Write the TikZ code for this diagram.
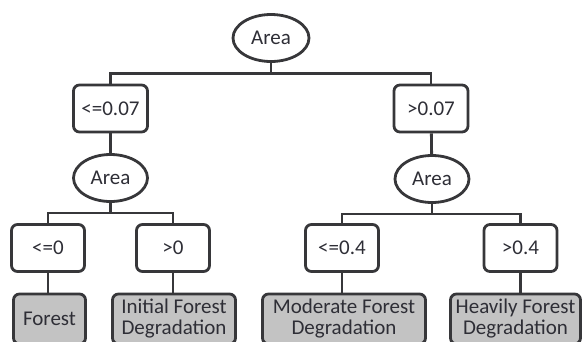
\documentclass[tikz,border=0pt]{standalone}
\usepackage{fontspec}
\setmainfont{Carlito}
\usetikzlibrary{shapes.geometric}
\definecolor{edge}{HTML}{37373A}
\definecolor{leafgray}{HTML}{C3C3C3}
\definecolor{ink}{HTML}{2E2E36}

\begin{document}
\begin{tikzpicture}[x=1pt,y=-1pt,
		attr/.style={ellipse,draw=edge,line width=2.8pt,fill=white,text=ink,minimum width=76pt,minimum height=47pt,inner sep=0pt},
		cond/.style={rectangle,rounded corners=6pt,draw=edge,line width=2.8pt,fill=white,text=ink,minimum width=73pt,minimum height=47pt,inner sep=0pt},
		leaf/.style={cond,fill=leafgray,minimum height=50pt,align=center},
		link/.style={draw=edge,line width=2.8pt}]
			\clip (0,0) rectangle (587,341);
			\fontsize{21}{21}\selectfont

			% top split
			\node[attr] (root) at (271,38) {Area};
			\node[cond,minimum width=74pt] (lo) at (110.5,108.5) {<=0.07};
			\node[cond,minimum width=74pt] (hi) at (431,108.5) {>0.07};

			% second splits
			\node[attr,minimum width=74pt] (loarea) at (110.5,178) {Area};
			\node[attr,minimum width=74pt] (hiarea) at (432,179) {Area};

			\node[cond] (lolo) at (48,248) {<=0};
			\node[cond] (lohi) at (173,248) {>0};
			\node[cond] (hilo) at (342,248) {<=0.4};
			\node[cond] (hihi) at (520.5,248) {>0.4};

			% classes
			\node[leaf,minimum width=72pt] (forest) at (49.5,319) {Forest};
			\node[leaf,minimum width=123pt] (initial) at (174,319) {Initial Forest\\Degradation};
			\node[leaf,minimum width=163pt] (moderate) at (344,319) {Moderate Forest\\Degradation};
			\node[leaf,minimum width=130pt] (heavy) at (515.5,319) {Heavily Forest\\Degradation};

			\draw[link] (root.south) -- ++(0,10.5) -| (lo.north);
			\draw[link] (root.south) -- ++(0,10.5) -| (hi.north);
			\draw[link] (lo) -- (loarea);
			\draw[link] (hi) -- (hiarea);
			\draw[link] (loarea.south) -- ++(0,10) -| (lolo.north);
			\draw[link] (loarea.south) -- ++(0,10) -| (lohi.north);
			\draw[link] (hiarea.south) -- ++(0,10) -| (hilo.north);
			\draw[link] (hiarea.south) -- ++(0,10) -| (hihi.north);
			\draw[link] (lolo) -- (lolo |- forest.north);
			\draw[link] (lohi) -- (lohi |- initial.north);
			\draw[link] (hilo) -- (hilo |- moderate.north);
			\draw[link] (hihi) -- (hihi |- heavy.north);
		\end{tikzpicture}
\end{document}
